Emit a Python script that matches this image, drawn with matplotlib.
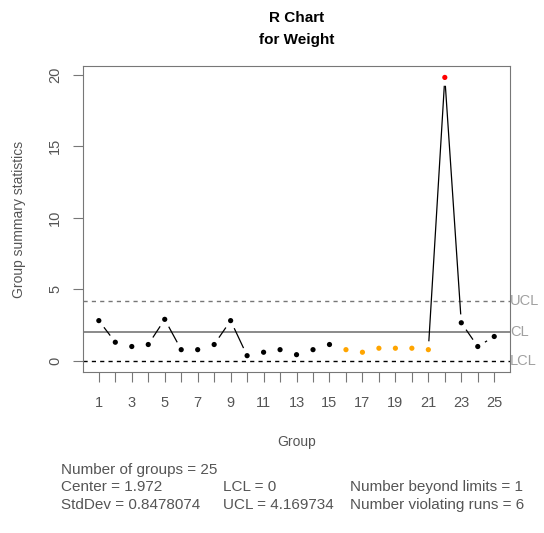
import numpy as np
import matplotlib.pyplot as plt

plt.rcParams['font.family'] = ['Liberation Sans', 'DejaVu Sans']

# R chart data
groups = np.arange(1, 26)
ranges = [2.80, 1.29, 0.99, 1.13, 2.89, 0.77, 0.77, 1.13, 2.80, 0.35,
          0.59, 0.77, 0.42, 0.77, 1.13, 0.77, 0.59, 0.87, 0.87, 0.87,
          0.77, 19.80, 2.65, 0.99, 1.69]
run_groups = [16, 17, 18, 19, 20, 21]
beyond_groups = [22]
center = 1.972
lcl = 0.0
ucl = 4.169734
stddev = 0.8478074

grey = "#777777"
txt = "#555555"

fig = plt.figure(figsize=(5.44, 5.33), dpi=100)
ax = fig.add_axes([0.1526, 0.3021, 0.785, 0.5741])

ax.set_xlim(0.04, 25.96)
ax.set_ylim(-0.79, 20.6)

# control lines
ax.axhline(center, color=grey, lw=1.2)
ax.axhline(ucl, color=grey, lw=1.0, ls=(0, (3, 3)))
ax.axhline(lcl, color="black", lw=1.0, ls=(0, (3, 3)))

# R style type="b": segments with gaps around the points
fig.canvas.draw()
pts = ax.transData.transform(np.column_stack([groups, ranges]))
gap = 9.0
for (x0, y0), (x1, y1) in zip(pts[:-1], pts[1:]):
    d = np.hypot(x1 - x0, y1 - y0)
    if d <= 2 * gap:
        continue
    ux, uy = (x1 - x0) / d, (y1 - y0) / d
    seg = ax.transData.inverted().transform([[x0 + ux * gap, y0 + uy * gap],
                                            [x1 - ux * gap, y1 - uy * gap]])
    ax.plot(seg[:, 0], seg[:, 1], color="black", lw=0.9)

cols = []
for g in groups:
    if g in beyond_groups:
        cols.append("red")
    elif g in run_groups:
        cols.append("orange")
    else:
        cols.append("black")
ax.scatter(groups, ranges, c=cols, s=14, zorder=3, linewidths=0)

# axes styling
for sp in ax.spines.values():
    sp.set_color(grey)
ax.set_xticks(groups)
ax.set_xticklabels([str(g) if g % 2 == 1 else "" for g in groups])
ax.set_yticks([0, 5, 10, 15, 20])
ax.set_yticklabels(["0", "5", "10", "15", "20"], rotation=90, va="center")
ax.tick_params(colors=grey, labelcolor=txt, labelsize=10.5, length=7)
ax.tick_params(axis="x", pad=10)
ax.tick_params(axis="y", pad=8)

ax.set_xlabel("Group", fontsize=10, color=txt, labelpad=18)
ax.set_ylabel("Group summary statistics", fontsize=10, color=txt, labelpad=16)

fig.text(297 / 544, 1 - 18 / 533, "R Chart", fontsize=11, fontweight="bold",
         ha="center", va="center")
fig.text(297 / 544, 1 - 40 / 533, "for Weight", fontsize=11, fontweight="bold",
         ha="center", va="center")

# labels for the limit lines
for val, lab in [(ucl, "UCL"), (center, "CL"), (lcl, "LCL")]:
    ax.text(1.0, val, lab, transform=ax.get_yaxis_transform(),
            va="center", ha="left", fontsize=10.5, color="#a0a0a0", clip_on=False)

# summary statistics below the plot
fs = 11
fig.text(61 / 544, 1 - 470 / 533, "Number of groups = 25", fontsize=fs, color=txt, va="center")
fig.text(61 / 544, 1 - 487 / 533, f"Center = {center}", fontsize=fs, color=txt, va="center")
fig.text(61 / 544, 1 - 505 / 533, f"StdDev = {stddev}", fontsize=fs, color=txt, va="center")
fig.text(223 / 544, 1 - 487 / 533, "LCL = 0", fontsize=fs, color=txt, va="center")
fig.text(223 / 544, 1 - 505 / 533, f"UCL = {ucl}", fontsize=fs, color=txt, va="center")
fig.text(350 / 544, 1 - 487 / 533, "Number beyond limits = 1", fontsize=fs, color=txt, va="center")
fig.text(350 / 544, 1 - 505 / 533, "Number violating runs = 6", fontsize=fs, color=txt, va="center")

fig.savefig("out.png", dpi=100)
